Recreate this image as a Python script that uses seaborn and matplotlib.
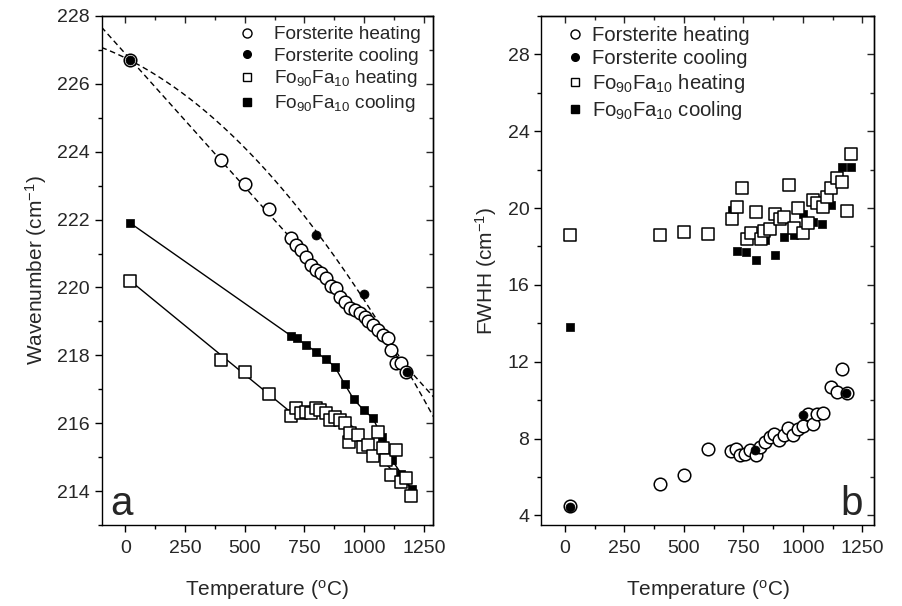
import numpy as np
import pandas as pd
import matplotlib
matplotlib.use("Agg")
import matplotlib.pyplot as plt
import seaborn as sns
from matplotlib.lines import Line2D
from matplotlib.ticker import MultipleLocator, NullFormatter

sns.set_style("ticks")
plt.rcParams['font.family'] = ['Liberation Sans', 'DejaVu Sans']
plt.rcParams['mathtext.fontset'] = 'custom'
plt.rcParams['mathtext.rm'] = 'Liberation Sans'
plt.rcParams['mathtext.it'] = 'Liberation Sans:italic'
plt.rcParams['axes.linewidth'] = 1.0

# ---------------- data: panel a (wavenumber) ----------------
fo_heat_T_a = [20, 400, 500, 600, 695, 716, 737, 758, 779, 800, 821, 842, 863, 884, 898,
               918, 939, 960, 981, 1002, 1016, 1037, 1058, 1079, 1100, 1114, 1135, 1155, 1176]
fo_heat_W = [226.7, 223.76, 223.05, 222.32, 221.45, 221.25, 221.11, 220.91, 220.67, 220.52,
             220.42, 220.27, 220.03, 219.98, 219.73, 219.58, 219.39, 219.34, 219.24, 219.14,
             219.0, 218.9, 218.75, 218.6, 218.5, 218.16, 217.77, 217.77, 217.52]

fo_cool_T = [20, 800, 1000, 1180]
fo_cool_W = [226.7, 221.55, 219.8, 217.5]

fa_heat_T_a = [20, 400, 500, 600, 695, 716, 737, 758, 779, 800, 817, 839, 856, 877, 898, 918,
               937, 939, 974, 995, 1016, 1037, 1058, 1079, 1093, 1114, 1135, 1155, 1176, 1197]
fa_heat_W = [220.2, 217.85, 217.5, 216.85, 216.20, 216.44, 216.30, 216.32, 216.30, 216.46,
             216.39, 216.30, 216.10, 216.18, 216.10, 216.00, 215.46, 215.71, 215.66, 215.31,
             215.36, 215.02, 215.73, 215.27, 214.92, 214.48, 215.22, 214.28, 214.38, 213.86]

fa_cool_T_a = [20, 695, 719, 758, 797, 839, 877, 918, 956, 998, 1037, 1076, 1116, 1156, 1200]
fa_cool_W = [221.9, 218.57, 218.5, 218.3, 218.11, 217.89, 217.67, 217.16, 216.71, 216.39,
             216.15, 215.58, 214.92, 214.51, 214.06]

# guide line through the Fo90Fa10 heating data
fa_heat_line_T = [20, 690, 760, 830, 900, 960, 1020, 1080, 1140, 1200]
fa_heat_line_W = [220.2, 216.34, 216.35, 216.32, 216.2, 215.85, 215.35, 214.88, 214.45, 214.08]

# ---------------- data: panel b (FWHH) ----------------
fo_heat_T_b = [20, 400, 500, 600, 696, 718, 737, 758, 779, 801, 819, 840, 860, 879, 900, 919,
               939, 960, 980, 1001, 1022, 1042, 1060, 1083, 1120, 1142, 1163, 1184]
fo_heat_F = [4.5, 5.65, 6.08, 7.45, 7.33, 7.45, 7.14, 7.21, 7.42, 7.12, 7.55, 7.8, 8.08, 8.25,
             7.9, 8.18, 8.55, 8.2, 8.48, 8.63, 9.29, 8.75, 9.28, 9.33, 10.68, 10.45, 11.63, 10.35]
fo_cool_F = [4.45, 7.42, 9.24, 10.35]

fa_heat_T_b = [20, 400, 500, 602, 700, 721, 742, 763, 780, 801, 822, 835, 861, 882, 903, 921,
               942, 963, 980, 1001, 1022, 1043, 1060, 1083, 1102, 1120, 1142, 1163, 1184, 1202]
fa_heat_F = [18.6, 18.62, 18.78, 18.66, 19.44, 20.04, 21.03, 18.38, 18.69, 19.82, 18.38, 18.83,
             18.92, 19.7, 19.44, 19.53, 21.2, 18.95, 19.99, 18.69, 19.21, 20.43, 20.29, 20.08,
             20.57, 21.03, 21.55, 21.38, 19.87, 22.82]

fa_cool_T_b = [20, 700, 721, 760, 801, 840, 882, 921, 962, 1001, 1041, 1081, 1120, 1163, 1202]
fa_cool_F = [13.8, 19.9, 17.74, 17.69, 17.3, 18.34, 17.56, 18.47, 18.6, 19.7, 19.3, 19.18,
             20.16, 22.16, 22.16]

legend_labels = ["Forsterite heating", "Forsterite cooling",
                 r"Fo$_{90}$Fa$_{10}$ heating", r"Fo$_{90}$Fa$_{10}$ cooling"]

# ---------------- figure ----------------
W, H = 902, 606
fig = plt.figure(figsize=(W / 100, H / 100), dpi=100)
ax1 = fig.add_axes([101.5 / W, 1 - 525 / H, 331.8 / W, 509 / H])
ax2 = fig.add_axes([541.2 / W, 1 - 525 / H, 333.1 / W, 509 / H])

S_OC, S_FC, S_OS, S_FS = 82, 42, 64, 30
EW = 1.1

# fitted dashed curves for forsterite (quadratic fits of the data)
Tfit = np.linspace(-100, 1290, 200)
ch = np.polyfit(fo_heat_T_a, fo_heat_W, 2)
cc = np.polyfit(fo_cool_T, fo_cool_W, 2)
fit_df = pd.DataFrame({"T": np.concatenate([Tfit, Tfit]),
                       "W": np.concatenate([np.polyval(ch, Tfit), np.polyval(cc, Tfit)]),
                       "s": ["h"] * len(Tfit) + ["c"] * len(Tfit)})
for key in ["h", "c"]:
    sub = fit_df[fit_df.s == key]
    sns.lineplot(data=sub, x="T", y="W", ax=ax1, color="black", lw=1.0,
                 linestyle=(0, (4, 2.6)), sort=False, estimator=None, zorder=1)

# solid guide lines for Fo90Fa10
sns.lineplot(x=fa_heat_line_T, y=fa_heat_line_W, ax=ax1, color="black", lw=1.0,
             sort=False, estimator=None, zorder=1)
sns.lineplot(x=fa_cool_T_a, y=fa_cool_W, ax=ax1, color="black", lw=1.0,
             sort=False, estimator=None, zorder=1)

# markers panel a
sns.scatterplot(x=fa_cool_T_a, y=fa_cool_W, ax=ax1, marker="s", s=S_FS, color="black",
                edgecolor="black", linewidth=0.5, zorder=3)
sns.scatterplot(x=fa_heat_T_a, y=fa_heat_W, ax=ax1, marker="s", s=S_OS, facecolor="white",
                edgecolor="black", linewidth=EW, zorder=4)
sns.scatterplot(x=fo_heat_T_a, y=fo_heat_W, ax=ax1, marker="o", s=S_OC, facecolor="white",
                edgecolor="black", linewidth=EW, zorder=4)
sns.scatterplot(x=fo_cool_T, y=fo_cool_W, ax=ax1, marker="o", s=S_FC, color="black",
                edgecolor="black", linewidth=0.5, zorder=5)

# markers panel b
sns.scatterplot(x=fa_cool_T_b, y=fa_cool_F, ax=ax2, marker="s", s=S_FS + 6, color="black",
                edgecolor="black", linewidth=0.5, zorder=3)
sns.scatterplot(x=fa_heat_T_b, y=fa_heat_F, ax=ax2, marker="s", s=S_OS, facecolor="white",
                edgecolor="black", linewidth=EW, zorder=4)
sns.scatterplot(x=fo_heat_T_b, y=fo_heat_F, ax=ax2, marker="o", s=S_OC, facecolor="white",
                edgecolor="black", linewidth=EW, zorder=4)
sns.scatterplot(x=fo_cool_T, y=fo_cool_F, ax=ax2, marker="o", s=S_FC, color="black",
                edgecolor="black", linewidth=0.5, zorder=5)

TICK_FS = 14
LAB_FS = 15


def style_axes(ax, xlim, ylim, ymaj, ymin):
    ax.set_xlim(*xlim)
    ax.set_ylim(*ylim)
    ax.xaxis.set_major_locator(MultipleLocator(250))
    ax.xaxis.set_minor_locator(MultipleLocator(125))
    ax.yaxis.set_major_locator(MultipleLocator(ymaj))
    ax.yaxis.set_minor_locator(MultipleLocator(ymin))
    ax.tick_params(which="both", direction="out", top=False, right=False,
                   labelsize=TICK_FS, width=1.0, color="black")
    ax.tick_params(which="major", length=5)
    ax.tick_params(which="minor", length=3)
    ax.tick_params(axis="x", which="major", pad=6)
    for sp in ax.spines.values():
        sp.set_visible(True)
        sp.set_color("black")
        sp.set_linewidth(1.0)
    sx = ax.secondary_xaxis("top")
    sx.xaxis.set_major_locator(MultipleLocator(250))
    sx.xaxis.set_minor_locator(MultipleLocator(125))
    sx.xaxis.set_major_formatter(NullFormatter())
    sx.tick_params(which="both", direction="in", width=1.0)
    sx.tick_params(which="major", length=5)
    sx.tick_params(which="minor", length=3)
    sy = ax.secondary_yaxis("right")
    sy.yaxis.set_major_locator(MultipleLocator(ymaj))
    sy.yaxis.set_minor_locator(MultipleLocator(ymin))
    sy.yaxis.set_major_formatter(NullFormatter())
    sy.tick_params(which="both", direction="in", width=1.0)
    sy.tick_params(which="major", length=5)
    sy.tick_params(which="minor", length=3)
    ax.set_xlabel(r"Temperature ($^{\rm o}$C)", fontsize=LAB_FS, labelpad=15)


style_axes(ax1, (-100, 1290), (213, 228), 2, 1)
style_axes(ax2, (-100, 1300), (3.5, 30), 4, 2)
ax1.set_ylabel(r"Wavenumber (cm$^{-1}$)", fontsize=LAB_FS, labelpad=6)
ax2.set_ylabel(r"FWHH (cm$^{-1}$)", fontsize=LAB_FS, labelpad=6)

ax1.text(0.025, 0.02, "a", transform=ax1.transAxes, fontsize=29, ha="left", va="baseline")
ax2.text(0.965, 0.02, "b", transform=ax2.transAxes, fontsize=29, ha="right", va="baseline")


def make_handles(scale=1.0):
    return [
        Line2D([], [], ls="none", marker="o", ms=6.5 * scale, mfc="white", mec="black", mew=1.0),
        Line2D([], [], ls="none", marker="o", ms=5.5 * scale, mfc="black", mec="black"),
        Line2D([], [], ls="none", marker="s", ms=6.0 * scale, mfc="white", mec="black", mew=1.0),
        Line2D([], [], ls="none", marker="s", ms=5.5 * scale, mfc="black", mec="black"),
    ]


for ax in (ax1, ax2):
    lg = ax.get_legend()
    if lg is not None:
        lg.remove()

ax1.legend(make_handles(), legend_labels, loc="upper left", bbox_to_anchor=(0.41, 0.98),
           frameon=False, fontsize=13.7, handlelength=1.0, handletextpad=0.9,
           labelspacing=0.2, borderaxespad=0, borderpad=0)
ax2.legend(make_handles(), legend_labels, loc="upper left", bbox_to_anchor=(0.07, 0.98),
           frameon=False, fontsize=14.6, handlelength=1.0, handletextpad=0.35,
           labelspacing=0.2, borderaxespad=0, borderpad=0)

fig.savefig("out.png", dpi=100)
